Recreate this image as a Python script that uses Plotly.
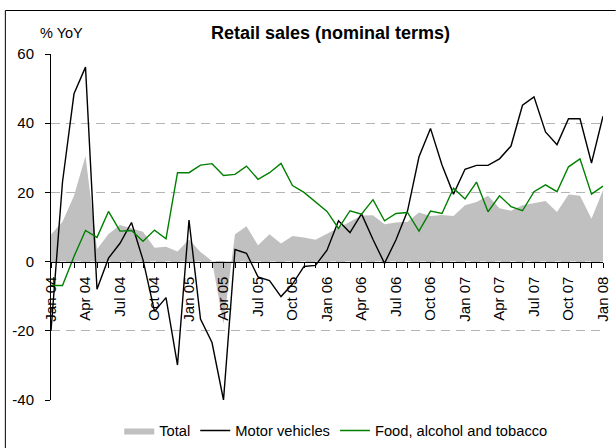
import plotly.graph_objects as go

months = [f"{m} {y:02d}" for y in range(4, 8) for m in
          ["Jan", "Feb", "Mar", "Apr", "May", "Jun", "Jul", "Aug", "Sep", "Oct", "Nov", "Dec"]] + ["Jan 08"]

total = [7.8, 11.5, 19.0, 30.5, 3.6, 8.0, 10.6, 9.5, 8.6, 4.0, 4.3, 2.9,
         6.4, 2.8, 0.2, -18.0, 7.9, 10.2, 4.7, 7.9, 5.2, 7.4, 7.0, 6.3,
         8.0, 9.6, 11.5, 13.3, 13.4, 10.8, 11.3, 11.5, 14.2, 13.2, 13.5, 13.2,
         16.3, 17.2, 19.0, 15.4, 14.7, 16.3, 17.0, 17.5, 14.3, 19.4, 19.0, 12.4,
         20.6]
motor = [-20.0, 23.0, 48.5, 56.2, -8.0, 1.0, 5.3, 11.3, 0.5, -14.4, -10.4, -29.9,
         12.0, -16.6, -23.4, -40.0, 3.5, 2.4, -4.4, -5.5, -10.1, -6.5, -1.4, -1.1,
         3.3, 11.8, 8.4, 13.8, 6.4, -0.5, 6.3, 14.6, 30.3, 38.5, 27.9, 19.5,
         26.7, 27.8, 27.8, 29.7, 33.4, 45.2, 47.6, 37.5, 33.8, 41.3, 41.3, 28.5,
         42.0]
food = [-6.9, -6.9, 1.5, 9.0, 7.0, 14.5, 8.8, 9.0, 5.9, 9.1, 6.6, 25.7,
        25.7, 27.9, 28.3, 24.9, 25.2, 27.6, 23.8, 25.7, 28.4, 22.0, 20.0, 17.2,
        14.5, 9.6, 14.7, 13.7, 17.9, 11.8, 13.9, 14.2, 8.8, 14.6, 13.9, 21.2,
        18.1, 23.0, 14.4, 19.0, 15.9, 14.7, 20.2, 22.2, 20.2, 27.4, 29.7, 19.5,
        21.8]

y_ticks = [-40, -20, 0, 20, 40, 60]
y_ticktext = ["-40", "-20", "0", "20", "40", "60"]

x = list(range(len(months)))
major_idx = list(range(0, len(months), 3))

W, H = 616, 448
L, R, T, B = 50.7, 12.7, 54, 48
pw, ph = W - L - R, H - T - B

def px_x(p):
    return (p - L) / pw

def px_y(p):
    return (H - B - p) / ph

FONT = "Liberation Sans, Arial, sans-serif"

fig = go.Figure()
fig.add_trace(go.Scatter(x=x, y=total, name="Total", mode="lines",
                         fill="tozeroy", fillcolor="#C0C0C0",
                         line=dict(width=0, color="#C0C0C0")))
fig.add_trace(go.Scatter(x=x, y=motor, name="Motor vehicles", mode="lines",
                         line=dict(color="black", width=1.4)))
fig.add_trace(go.Scatter(x=x, y=food, name="Food, alcohol and tobacco", mode="lines",
                         line=dict(color="#008000", width=1.4)))

fig.update_layout(
    width=W, height=H,
    margin=dict(l=L, r=R, t=T, b=B, pad=0, autoexpand=False),
    paper_bgcolor="white", plot_bgcolor="white",
    font=dict(family=FONT, size=15, color="black"),
    showlegend=True,
    legend=dict(orientation="h", x=px_x(119), xanchor="left",
                y=px_y(431), yanchor="middle",
                font=dict(size=14.7), bgcolor="rgba(0,0,0,0)"),
    xaxis=dict(range=[0, len(months) - 1], tickmode="array",
               tickvals=major_idx, ticktext=[months[i] for i in major_idx],
               tickangle=-90, ticks="outside", ticklen=5, tickcolor="black",
               showline=True, linecolor="black", linewidth=1,
               showgrid=False, zeroline=False, automargin=False,
               anchor="free", position=0.4, ticklabelstandoff=3,
               tickfont=dict(size=15),
               minor=dict(tickmode="array", tickvals=x, ticks="outside",
                          ticklen=5, tickcolor="black", showgrid=False)),
    yaxis=dict(range=[-40, 60], tickmode="array", tickvals=y_ticks,
               ticktext=y_ticktext, ticks="outside", ticklen=5,
               tickcolor="black", showline=True, linecolor="black",
               linewidth=1, showgrid=True, gridcolor="#B4B4B4",
               griddash="9px,6px", gridwidth=1, zeroline=False,
               automargin=False,
               ticklabelstandoff=8, tickfont=dict(size=15)),
    annotations=[
        dict(text="<b>Retail sales (nominal terms)</b>", xref="paper", yref="paper",
             x=px_x(331), y=px_y(33), xanchor="center", yanchor="middle",
             showarrow=False, font=dict(size=18)),
        dict(text="% YoY", xref="paper", yref="paper",
             x=px_x(38), y=px_y(33), xanchor="left", yanchor="middle",
             showarrow=False, font=dict(size=14.5)),
    ],
    shapes=[
        dict(type="line", xref="paper", yref="paper",
             x0=px_x(5), x1=px_x(616), y0=px_y(10.5), y1=px_y(10.5),
             line=dict(color="black", width=1), layer="above"),
        dict(type="line", xref="paper", yref="paper",
             x0=px_x(5), x1=px_x(5), y0=px_y(10.5), y1=px_y(448),
             line=dict(color="black", width=1), layer="above"),
    ],
)

fig.write_html("out.html", config={"displayModeBar": False},
               post_script="document.body.style.margin='0';document.body.style.padding='0';")
